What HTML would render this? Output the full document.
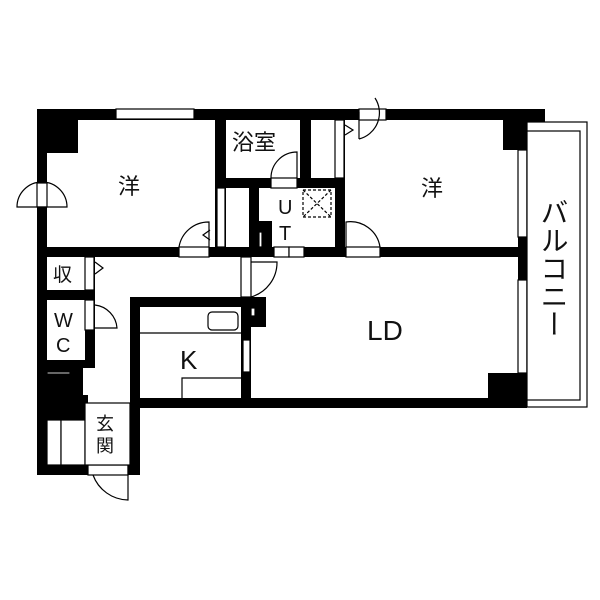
<!DOCTYPE html>
<html><head><meta charset="utf-8"><style>
html,body{margin:0;padding:0;background:#fff;}
svg{display:block}
text{font-family:"Liberation Sans","Noto Sans CJK JP",sans-serif;fill:#111;}
</style></head><body>
<svg width="600" height="600" viewBox="0 0 600 600" xmlns="http://www.w3.org/2000/svg">
<g fill="#000">
<rect x="37" y="109" width="508" height="11"/>
<rect x="37" y="109" width="10" height="366"/>
<rect x="37" y="109" width="41" height="44"/>
<rect x="215" y="109" width="11" height="148"/>
<rect x="300" y="109" width="11" height="79"/>
<rect x="335" y="109" width="10" height="148"/>
<rect x="215" y="178" width="130" height="10"/>
<rect x="249" y="188" width="10" height="60"/>
<rect x="259" y="221" width="13" height="30"/>
<rect x="37" y="247" width="490" height="10"/>
<rect x="503" y="109" width="42" height="41"/>
<rect x="518" y="109" width="9" height="299"/>
<rect x="488" y="373" width="39" height="35"/>
<rect x="130" y="398" width="397" height="10"/>
<rect x="130" y="297" width="10" height="178"/>
<rect x="130" y="297" width="121" height="10"/>
<rect x="241" y="297" width="10" height="111"/>
<rect x="251" y="297" width="15" height="30"/>
<rect x="37" y="290" width="58" height="10"/>
<rect x="85" y="257" width="10" height="111"/>
<rect x="37" y="360" width="58" height="8"/>
<rect x="37" y="368" width="46" height="52"/>
<rect x="83" y="395" width="5" height="25"/>
<rect x="37" y="465" width="103" height="10"/>
</g>
<g fill="#fff" stroke="#000" stroke-width="1.2">
<rect x="116" y="109" width="78" height="10"/>
<rect x="518" y="150" width="9" height="87"/>
<rect x="518" y="280" width="9" height="93"/>
<rect x="243" y="340" width="7" height="32"/>
<rect x="359" y="109" width="27" height="11"/>
<rect x="37" y="183" width="10" height="24"/>
<rect x="179" y="247" width="30" height="10"/>
<rect x="346" y="247" width="34" height="10"/>
<rect x="274" y="247" width="15" height="10"/>
<rect x="289" y="247" width="15" height="10"/>
<rect x="271" y="178" width="26" height="10"/>
<rect x="241" y="257" width="10" height="40"/>
<rect x="85" y="257" width="9" height="33"/>
<rect x="85" y="300" width="9" height="30"/>
<rect x="88" y="465" width="40" height="10"/>
<rect x="217" y="188" width="8" height="59"/>
<rect x="335" y="120" width="9" height="58"/>
<rect x="259" y="232" width="3" height="15"/>
<rect x="251" y="308" width="4" height="8"/>
<rect x="47" y="372" width="23" height="2"/>
<rect x="47" y="420" width="14" height="45"/>
<rect x="61" y="420" width="24" height="45"/>
<rect x="85" y="403" width="45" height="62"/>
<rect x="527" y="122" width="60" height="285"/>
<rect x="527" y="131" width="53" height="269"/>
<line x1="140" y1="333" x2="241" y2="333"/>
<rect x="208" y="312" width="30" height="18" rx="4"/>
<polyline points="182,398 182,378 241,378"/>
<rect x="303" y="190" width="28" height="27" stroke-dasharray="3,2"/>
</g>
<g fill="none" stroke="#000" stroke-width="1.2">
<line x1="303" y1="190" x2="331" y2="217" stroke-dasharray="3,2"/>
<line x1="331" y1="190" x2="303" y2="217" stroke-dasharray="3,2"/>
<path d="M17,207 A25,25 0 0 1 67,207 Z"/>
<path d="M209,247 L209,222 A30,30 0 0 0 179,247"/>
<path d="M346,247 L346,222 A30,30 0 0 1 380,247"/>
<path d="M297,178 L297,152 A26,26 0 0 0 271,178"/>
<path d="M359,139 L359,112 M359,139 A27,27 0 0 0 375,98"/>
<path d="M251,297 A36,36 0 0 0 277,262 L251,262"/>
<path d="M95,305 A25,25 0 0 1 117,328 L95,328"/>
<path d="M128,465 L128,500 A38,38 0 0 1 93,475"/>
<path d="M210,230 L203,235 L210,240"/>
<path d="M345,125 L353,130 L345,135"/>
<path d="M95,262 L103,268 L95,274"/>
</g>
<g font-size="22">
<text x="118" y="194">洋</text>
<text x="232" y="150">浴室</text>
<text x="421" y="196">洋</text>
<text x="278" y="214" font-size="20">U</text>
<text x="279" y="240" font-size="20">T</text>
<text x="53" y="281" font-size="19">収</text>
<text x="54" y="327" font-size="20">W</text>
<text x="56" y="352" font-size="20">C</text>
<text x="96" y="430" font-size="18">玄</text>
<text x="96" y="452" font-size="18">関</text>
<text x="180" y="369" font-size="26">K</text>
<text x="367" y="340" font-size="28">LD</text>
<text x="553" y="198" font-size="28" style="writing-mode:vertical-rl">バルコニー</text>
</g>
</svg>
</body></html>
